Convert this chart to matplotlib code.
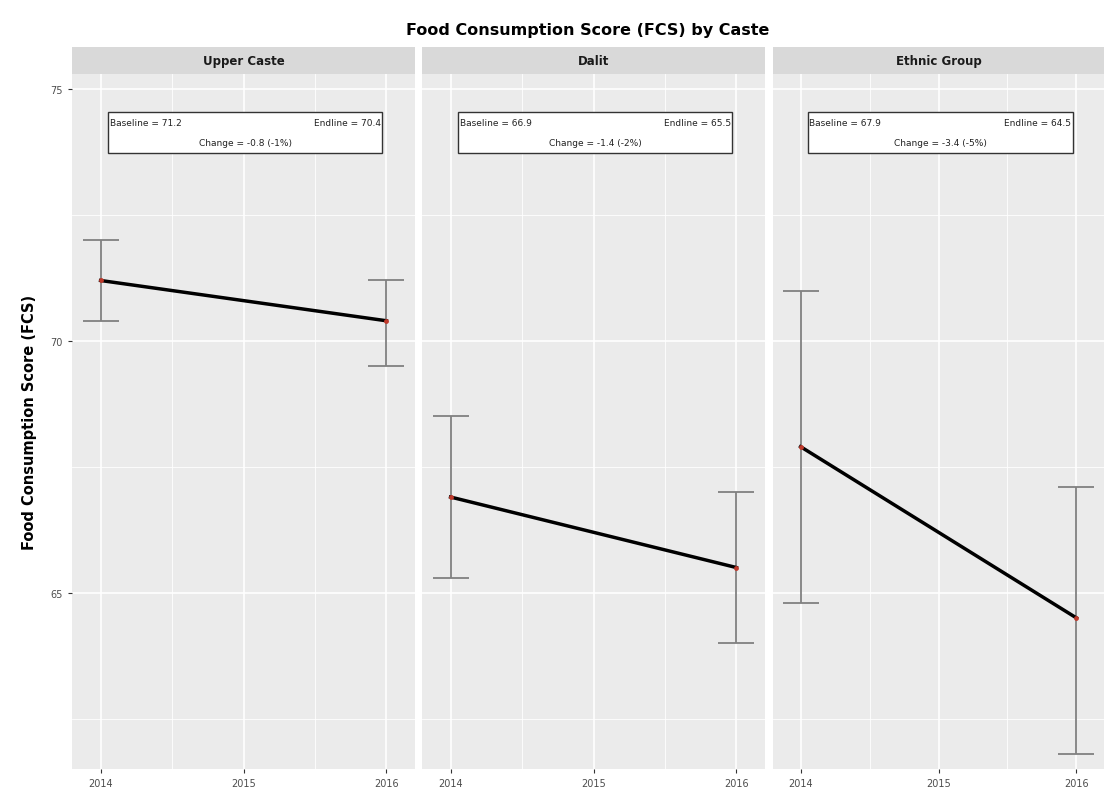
import matplotlib
matplotlib.use("Agg")
import matplotlib.pyplot as plt
from matplotlib.ticker import MultipleLocator

groups = ["Upper Caste", "Dalit", "Ethnic Group"]
years = [2014, 2016]
baseline = [71.2, 66.9, 67.9]
endline = [70.4, 65.5, 64.5]
base_lo = [70.4, 65.3, 64.8]
base_hi = [72.0, 68.5, 71.0]
end_lo = [69.5, 64.0, 61.8]
end_hi = [71.2, 67.0, 67.1]
xticks = [2014, 2015, 2016]
yticks = [65, 70, 75]

W, H = 1104, 812
fig = plt.figure(figsize=(W / 100, H / 100), dpi=100)
fig.patch.set_facecolor("white")

lefts = [72, 422, 773]
widths = [343, 343, 331]
bottom_px, top_px = 770, 75
strip_h = 27

for i, g in enumerate(groups):
    ax = fig.add_axes([lefts[i] / W, 1 - bottom_px / H, widths[i] / W, (bottom_px - top_px) / H])
    ax.set_facecolor("#EBEBEB")
    for s in ax.spines.values():
        s.set_visible(False)
    ax.set_xlim(2013.8, 2016.2)
    ax.set_ylim(61.5, 75.3)
    ax.set_xticks(xticks)
    ax.set_xticklabels([str(t) for t in xticks])
    ax.xaxis.set_minor_locator(MultipleLocator(0.5))
    ax.set_yticks(yticks)
    ax.yaxis.set_minor_locator(MultipleLocator(2.5))
    ax.grid(True, which="major", color="white", linewidth=1.2)
    ax.grid(True, which="minor", color="white", linewidth=0.6)
    ax.set_axisbelow(True)
    ax.tick_params(which="both", length=0)
    ax.tick_params(axis="both", which="major", colors="#4D4D4D", labelsize=7, length=3, color="#333333")
    if i == 0:
        ax.set_yticklabels([str(t) for t in yticks])
        ax.set_ylabel("Food Consumption Score (FCS)", fontsize=10.5, fontweight="bold", labelpad=10)
    else:
        ax.set_yticklabels([])
        ax.tick_params(axis="y", which="major", length=0)

    vals = [baseline[i], endline[i]]
    los = [base_lo[i], end_lo[i]]
    his = [base_hi[i], end_hi[i]]
    yerr = [[v - l for v, l in zip(vals, los)], [h - v for v, h in zip(vals, his)]]
    ax.errorbar(years, vals, yerr=yerr, fmt="none", ecolor="#808080", elinewidth=1.3,
                capsize=13, capthick=1.3, zorder=2)
    ax.plot(years, vals, color="black", linewidth=2.5, zorder=3)
    ax.scatter(years, vals, color="#C0392B", s=6, zorder=4)

    # annotation box
    ax.add_patch(plt.Rectangle((0.105, 0.887), 0.8, 0.058, transform=ax.transAxes,
                               facecolor="white", edgecolor="#333333", linewidth=1.0, zorder=5))
    ax.text(0.11, 0.930, f"Baseline = {baseline[i]:.1f}", transform=ax.transAxes,
            fontsize=6.5, ha="left", va="center", color="#222222", zorder=6)
    ax.text(0.90, 0.930, f"Endline = {endline[i]:.1f}", transform=ax.transAxes,
            fontsize=6.5, ha="right", va="center", color="#222222", zorder=6)
    ch = endline[i] - baseline[i]
    pct = ch / baseline[i] * 100
    ax.text(0.505, 0.902, f"Change = {ch:.1f} ({pct:.0f}%)", transform=ax.transAxes,
            fontsize=6.5, ha="center", va="center", color="#222222", zorder=6)

    sax = fig.add_axes([lefts[i] / W, 1 - top_px / H, widths[i] / W, strip_h / H])
    sax.set_facecolor("#D9D9D9")
    sax.set_xticks([])
    sax.set_yticks([])
    for s in sax.spines.values():
        s.set_visible(False)
    sax.text(0.5, 0.5, g, transform=sax.transAxes, ha="center", va="center",
             fontsize=8.5, fontweight="bold", color="#1A1A1A")

fig.text(588 / W, 1 - 30 / H, "Food Consumption Score (FCS) by Caste", ha="center", va="center",
         fontsize=11.5, fontweight="bold")

fig.savefig("out.png", dpi=100)
